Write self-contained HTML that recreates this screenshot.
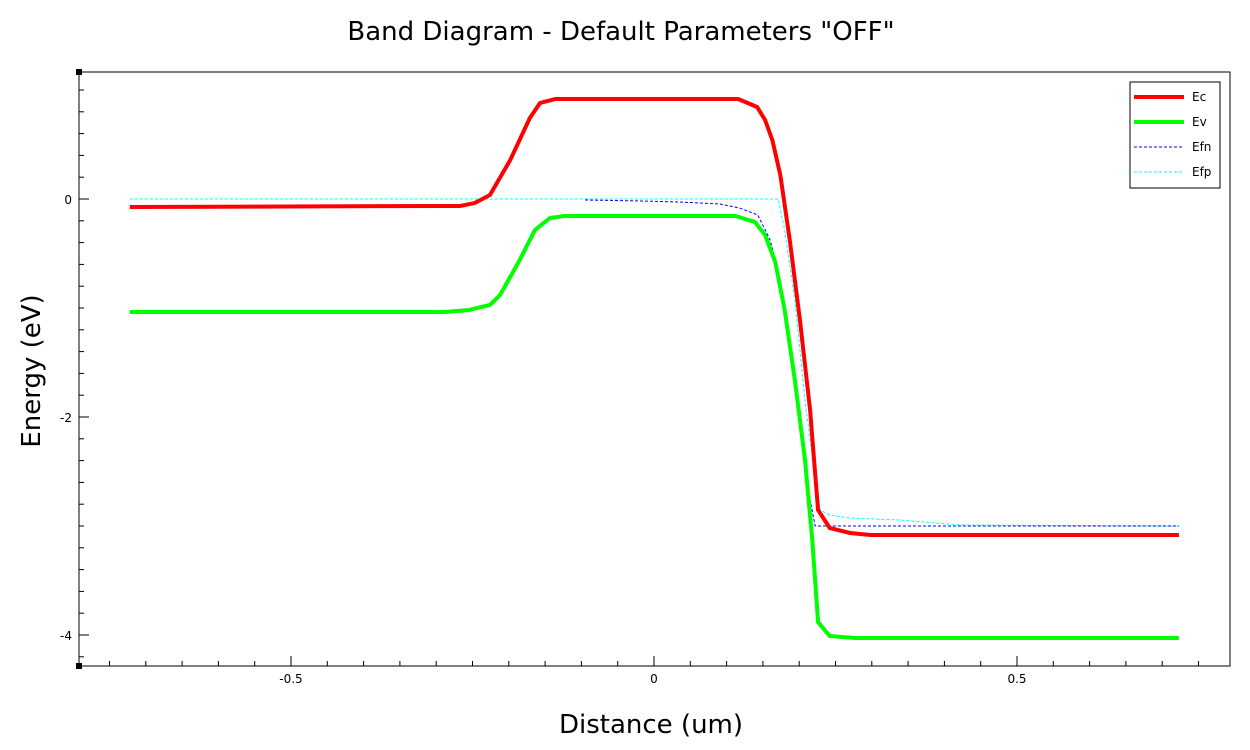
<!DOCTYPE html>
<html><head><meta charset="utf-8"><style>body{margin:0;background:#fff}svg{display:block;font-family:"DejaVu Sans","Liberation Sans",sans-serif}</style></head>
<body>
<svg id="chart" width="1250" height="750">
<text x="621" y="40" text-anchor="middle" font-size="26">Band Diagram - Default Parameters "OFF"</text>
<text x="651" y="733" text-anchor="middle" font-size="26">Distance (um)</text>
<text x="40" y="371" text-anchor="middle" font-size="26" transform="rotate(-90 40 371)">Energy (eV)</text>
<rect x="79" y="72" width="1151" height="594" fill="none" stroke="#000" stroke-width="1"/>
<g id="axes"></g><g id="series"></g>
<g>
<rect x="1130" y="82" width="90" height="106" fill="#fff" stroke="#000"/>
<line x1="1134" y1="97" x2="1184" y2="97" stroke="#f00" stroke-width="4"/>
<text x="1192" y="101" font-size="12">Ec</text>
<line x1="1134" y1="122" x2="1184" y2="122" stroke="#0f0" stroke-width="4"/>
<text x="1192" y="126" font-size="12">Ev</text>
<line x1="1134" y1="147" x2="1184" y2="147" stroke="#00f" stroke-width="1" stroke-dasharray="3,2"/>
<text x="1192" y="151" font-size="12">Efn</text>
<line x1="1134" y1="172" x2="1184" y2="172" stroke="#0ff" stroke-width="1" stroke-dasharray="3,2"/>
<text x="1192" y="176" font-size="12">Efp</text>
</g>
</svg>
<script>
const ecX=[-0.722,-0.288,-0.267,-0.247,-0.226,-0.198,-0.171,-0.157,-0.136,0.116,0.142,0.153,0.163,0.174,0.187,0.201,0.215,0.226,0.242,0.270,0.298,0.723];
const ecY=[-0.073,-0.064,-0.064,-0.037,0.037,0.358,0.743,0.881,0.917,0.917,0.844,0.725,0.541,0.220,-0.376,-1.110,-1.936,-2.853,-3.018,-3.064,-3.083,-3.083];
const evX=[-0.722,-0.288,-0.255,-0.226,-0.212,-0.185,-0.164,-0.143,-0.123,0.112,0.139,0.153,0.167,0.180,0.194,0.208,0.218,0.226,0.242,0.277,0.723];
const evY=[-1.037,-1.037,-1.018,-0.972,-0.881,-0.560,-0.284,-0.174,-0.156,-0.156,-0.211,-0.330,-0.578,-1.018,-1.661,-2.394,-3.128,-3.881,-4.009,-4.028,-4.028];
const efnX=[-0.095,-0.019,0.036,0.091,0.118,0.143,0.160,0.174,0.187,0.201,0.215,0.222,0.723];
const efnY=[-0.009,-0.018,-0.028,-0.046,-0.083,-0.147,-0.376,-0.743,-1.294,-2.028,-2.761,-3.000,-3.000];
const efpX=[-0.722,0.171,0.180,0.194,0.208,0.222,0.229,0.242,0.270,0.339,0.421,0.723];
const efpY=[0,0,-0.284,-0.927,-1.844,-2.578,-2.853,-2.899,-2.927,-2.945,-2.991,-3.000];
const xTicks=[-0.5,0,0.5];
const yTicks=[0,-2,-4];
const X=v=>654+v*726, Y=v=>199-v*109;
const NS="http://www.w3.org/2000/svg";
const ax=document.getElementById('axes'), se=document.getElementById('series');
function mk(t,a,p){const e=document.createElementNS(NS,t);for(const k in a)e.setAttribute(k,a[k]);p.appendChild(e);return e;}
for(let v=-0.75;v<=0.76;v+=0.05){const major=xTicks.some(t=>Math.abs(t-v)<1e-6);
 const l=mk('line',{x1:X(v),x2:X(v),y1:666,y2:major?656:661,stroke:'#000'},ax);
 
 }
for(let v=1.0;v>=-4.21;v-=0.2){const major=yTicks.some(t=>Math.abs(t-v)<1e-6);
 const l=mk('line',{x1:79,x2:major?89:84,y1:Y(v),y2:Y(v),stroke:'#000'},ax);
 
 }
xTicks.forEach(v=>{const t=mk('text',{x:X(v),y:683,'text-anchor':'middle','font-size':12},ax);t.textContent=String(v);
 
 });
yTicks.forEach(v=>{const t=mk('text',{x:72,y:Y(v)+5,'text-anchor':'end','font-size':12},ax);t.textContent=String(v);
 
 });
mk('rect',{x:76,y:69,width:6,height:6,fill:'#000'},ax);mk('rect',{x:76,y:663,width:6,height:6,fill:'#000'},ax);
function line(xs,ys,st,w,dash,name){const p=mk('polyline',{points:xs.map((x,i)=>X(x)+','+Y(ys[i])).join(' '),fill:'none',stroke:st,'stroke-width':w},se);
 if(dash)p.setAttribute('stroke-dasharray',dash);
 
 }
line(efpX,efpY,'#0ff',1,'3,2','efp-line');
line(efnX,efnY,'#00f',1,'3,2','efn-line');
line(ecX,ecY,'#f00',4,null,'ec-line');
line(evX,evY,'#0f0',4,null,'ev-line');
</script>
</body></html>
